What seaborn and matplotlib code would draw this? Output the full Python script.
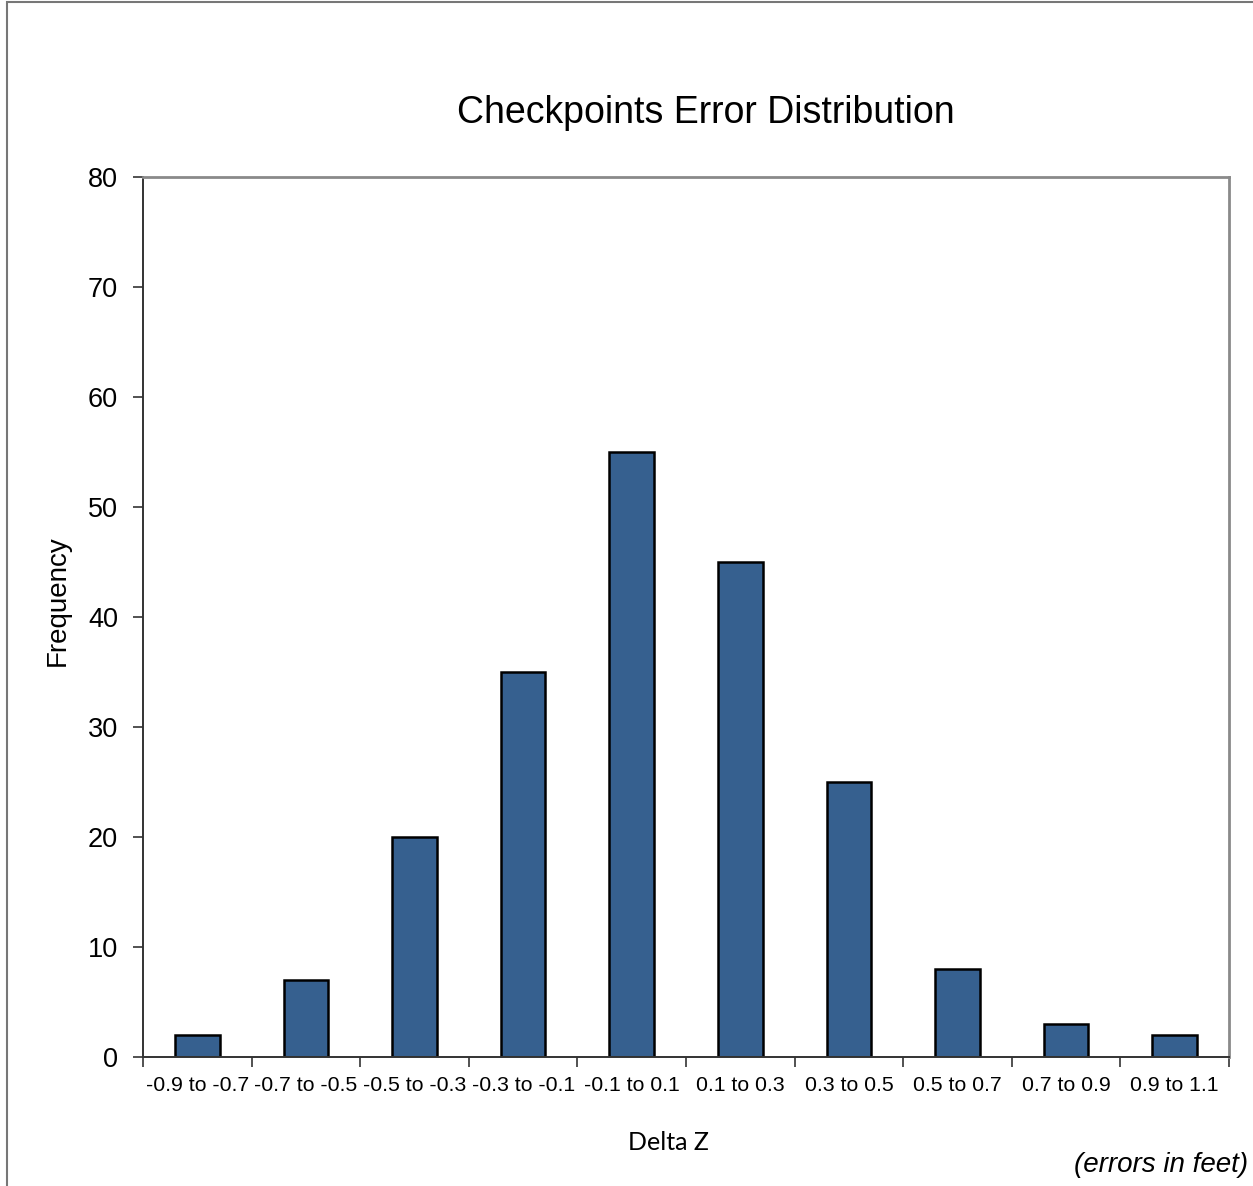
import numpy as np
import matplotlib
matplotlib.use("Agg")
import matplotlib.pyplot as plt
import seaborn as sns
import pandas as pd
from matplotlib.patches import Rectangle

# bins and counts
bins = ["-0.9 to -0.7", "-0.7 to -0.5", "-0.5 to -0.3", "-0.3 to -0.1", "-0.1 to 0.1",
        "0.1 to 0.3", "0.3 to 0.5", "0.5 to 0.7", "0.7 to 0.9", "0.9 to 1.1"]
frequency = [2, 7, 20, 35, 55, 45, 25, 8, 3, 2]
y_ticks = [0, 10, 20, 30, 40, 50, 60, 70, 80]

sns.set_style("white")
plt.rcParams["font.family"] = ["Liberation Sans", "DejaVu Sans"]
plt.rcParams["text.color"] = "black"
plt.rcParams["xtick.labelcolor"] = "black"
plt.rcParams["ytick.labelcolor"] = "black"

df = pd.DataFrame({"bin": bins, "freq": frequency})

fig = plt.figure(figsize=(12.53, 11.86), dpi=100)
ax = fig.add_axes([143/1253, 1-1057/1186, (1229-143)/1253, (1057-177)/1186])

sns.barplot(data=df, x="bin", y="freq", color="#36608F", saturation=1,
            edgecolor="black", linewidth=1.8, width=0.41, ax=ax)

ax.set_ylim(0, 80)
ax.set_xlim(-0.5, len(bins)-0.5)
ax.set_yticks(y_ticks)
ax.set_yticklabels([str(v) for v in y_ticks], fontsize=19.5)
ax.set_xticks(range(len(bins)))
ax.set_xticklabels(bins, fontsize=15.3)
ax.set_xticks(np.arange(-0.5, len(bins), 1.0), minor=True)
ax.tick_params(axis="x", which="major", length=0, pad=14)
ax.tick_params(axis="x", which="minor", length=7, width=1.2, color="#333333", direction="out", bottom=True)
ax.tick_params(axis="y", which="major", length=7, width=1.2, color="#333333", direction="out", left=True, pad=11)
ax.set_xlabel("")
ax.set_ylabel("")

for side in ["left", "bottom"]:
    ax.spines[side].set_color("#333333")
    ax.spines[side].set_linewidth(1.4)
for side in ["top", "right"]:
    ax.spines[side].set_color("#8a8a8a")
    ax.spines[side].set_linewidth(2.0)

fig.text(706/1253, 1-123/1186, "Checkpoints Error Distribution", fontsize=27,
         ha="center", va="baseline")
fig.text(58/1253, 1-601/1186, "Frequency", fontsize=20, rotation=90,
         ha="center", va="center")
fig.text(668/1253, 1-1142/1186, "Delta Z", fontsize=18, family=["Lato", "DejaVu Sans"],
         ha="center", va="center")
fig.text(1248/1253, 1-1172/1186, "(errors in feet)", fontsize=20, style="italic",
         ha="right", va="baseline")

# outer chart border (only top and left edges visible in the picture)
fig.patches.append(Rectangle((7/1253, -0.05), 1.2, 1-2/1186+0.05, transform=fig.transFigure,
                             fill=False, edgecolor="#777777", linewidth=1.5))

plt.savefig("out.png", dpi=100)
plt.close("all")
